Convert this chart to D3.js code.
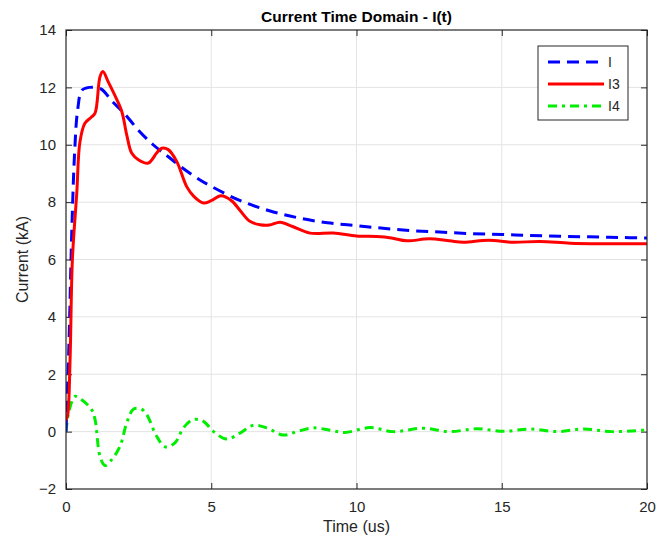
<!DOCTYPE html>
<html>
<head>
<meta charset="utf-8">
<script src="https://cdn.jsdelivr.net/npm/d3@7"></script>
<style>
  html, body { margin: 0; padding: 0; background: #fff; }
  svg { display: block; font-family: "Liberation Sans", Arial, Helvetica, sans-serif; }
</style>
</head>
<body>
<svg id="chart" width="666" height="540"></svg>
<script>
// ---- Data ----
const title = "Current Time Domain - I(t)";
const xLabel = "Time (us)";
const yLabel = "Current (kA)";
const xTicks = [0, 5, 10, 15, 20];
const yTicks = [-2, 0, 2, 4, 6, 8, 10, 12, 14];
const seriesNames = ["I", "I3", "I4"];

const tI = [0, 0.1, 0.2, 0.3, 0.4, 0.55, 0.8, 1.2, 1.6, 2.0, 2.5, 3.0, 3.5, 4.0, 4.6, 5.0, 6.0, 7.0, 8.0, 9.0, 10, 11, 12, 13, 14, 15, 16, 17, 18, 19, 20];
const vI = [0, 3.0, 7.0, 9.8, 11.2, 11.9, 12.0, 11.95, 11.5, 11.1, 10.5, 10.0, 9.6, 9.2, 8.78, 8.55, 8.05, 7.7, 7.45, 7.28, 7.18, 7.08, 7.0, 6.95, 6.9, 6.87, 6.84, 6.81, 6.79, 6.77, 6.75];

const tI3 = [0, 0.06, 0.14, 0.22, 0.37, 0.48, 0.65, 0.86, 1.0, 1.17, 1.27, 1.45, 1.69, 1.92, 2.1, 2.26, 2.49, 2.83, 3.12, 3.29, 3.52, 3.81, 4.15, 4.4, 4.73, 5.0, 5.33, 5.7, 6.0, 6.33, 6.68, 7.0, 7.37, 7.8, 8.4, 9.2, 10.0, 10.7, 11.2, 11.73, 12.5, 13.2, 13.68, 14.54, 15.39, 16.3, 17.35, 18.5, 20];
const vI3 = [0.4, 0.6, 2.5, 6.0, 8.3, 10.1, 10.75, 10.95, 11.1, 12.37, 12.55, 12.2, 11.7, 11.16, 10.3, 9.71, 9.48, 9.36, 9.71, 9.88, 9.83, 9.42, 8.55, 8.2, 7.97, 8.05, 8.22, 8.05, 7.7, 7.33, 7.21, 7.2, 7.3, 7.15, 6.92, 6.92, 6.82, 6.8, 6.75, 6.65, 6.72, 6.65, 6.6, 6.67, 6.6, 6.63, 6.57, 6.55, 6.55];

const tI4 = [0, 0.1, 0.31, 0.54, 0.88, 1.0, 1.17, 1.34, 1.57, 1.86, 2.09, 2.32, 2.6, 2.78, 3.12, 3.41, 3.75, 4.04, 4.38, 4.73, 5.07, 5.53, 5.99, 6.45, 6.91, 7.48, 7.94, 8.51, 9.09, 9.6, 10.46, 11.27, 12.3, 13.2, 14.14, 15.05, 15.97, 16.9, 17.8, 18.8, 20];
const vI4 = [0, 0.7, 1.23, 1.11, 0.77, 0.42, -0.86, -1.18, -0.98, -0.51, 0.3, 0.78, 0.78, 0.59, -0.16, -0.53, -0.39, 0.13, 0.42, 0.36, 0.01, -0.26, -0.05, 0.22, 0.13, -0.12, 0.0, 0.13, 0.05, -0.03, 0.14, 0.0, 0.12, 0.0, 0.1, 0.01, 0.09, 0.0, 0.09, 0.0, 0.06];

// ---- Layout ----
const svg = d3.select("#chart");
const m = { left: 66, right: 647, top: 30, bottom: 489 };
const x = d3.scaleLinear().domain([0, 20]).range([m.left, m.right]);
const y = d3.scaleLinear().domain([-2, 14]).range([m.bottom, m.top]);

// grid
const grid = svg.append("g");
grid.selectAll("line.gx").data(xTicks.slice(1, -1)).enter().append("line")
  .attr("x1", d => x(d)).attr("x2", d => x(d))
  .attr("y1", m.top).attr("y2", m.bottom)
  .attr("stroke", "#e3e3e3").attr("stroke-width", 1);
grid.selectAll("line.gy").data(yTicks.slice(1, -1)).enter().append("line")
  .attr("y1", d => y(d)).attr("y2", d => y(d))
  .attr("x1", m.left).attr("x2", m.right)
  .attr("stroke", "#e3e3e3").attr("stroke-width", 1);

// axes
const tickLen = 6;
const xAxisB = d3.axisBottom(x).tickValues(xTicks).tickSize(-tickLen).tickPadding(12).tickFormat(d3.format("d"));
const xAxisT = d3.axisTop(x).tickValues(xTicks).tickSize(-tickLen).tickFormat("");
const yAxisL = d3.axisLeft(y).tickValues(yTicks).tickSize(-tickLen).tickPadding(10).tickFormat(d3.format("d"));
const yAxisR = d3.axisRight(y).tickValues(yTicks).tickSize(-tickLen).tickFormat("");

function styleAxis(g) {
  g.select(".domain").remove();
  g.selectAll(".tick line").attr("stroke", "#262626").attr("stroke-width", 1);
  g.selectAll(".tick text").attr("fill", "#262626").style("font-size", "15px");
}
svg.append("g").attr("transform", `translate(0,${m.bottom})`).call(xAxisB).call(styleAxis);
svg.append("g").attr("transform", `translate(0,${m.top})`).call(xAxisT).call(styleAxis);
svg.append("g").attr("transform", `translate(${m.left},0)`).call(yAxisL).call(styleAxis);
svg.append("g").attr("transform", `translate(${m.right},0)`).call(yAxisR).call(styleAxis);

// lines
svg.append("clipPath").attr("id", "clip").append("rect")
  .attr("x", m.left).attr("y", m.top).attr("width", m.right - m.left).attr("height", m.bottom - m.top);
const line = d3.line().x(d => x(d[0])).y(d => y(d[1])).curve(d3.curveCatmullRom.alpha(0.5));
const lines = svg.append("g").attr("clip-path", "url(#clip)");

const series = [
  { name: seriesNames[0], pts: d3.zip(tI, vI), color: "#0000ff", dash: "12,7" },
  { name: seriesNames[1], pts: d3.zip(tI3, vI3), color: "#ff0000", dash: null },
  { name: seriesNames[2], pts: d3.zip(tI4, vI4), color: "#00ee00", dash: "9,5,3,5" }
];
[series[2], series[0], series[1]].forEach(s => {
  lines.append("path").datum(s.pts)
    .attr("d", line).attr("fill", "none")
    .attr("stroke", s.color).attr("stroke-width", 3)
    .attr("stroke-dasharray", s.dash);
});

// frame
svg.append("rect").attr("x", m.left).attr("y", m.top)
  .attr("width", m.right - m.left).attr("height", m.bottom - m.top)
  .attr("fill", "none").attr("stroke", "#262626").attr("stroke-width", 1.2);

// title & labels
svg.append("text").attr("x", (m.left + m.right) / 2).attr("y", 22)
  .attr("text-anchor", "middle").style("font-size", "15.5px").style("font-weight", "bold")
  .attr("fill", "#000").text(title);
svg.append("text").attr("x", (m.left + m.right) / 2).attr("y", 532)
  .attr("text-anchor", "middle").style("font-size", "16px").attr("fill", "#262626").text(xLabel);
svg.append("text").attr("transform", `translate(28,${(m.top + m.bottom) / 2}) rotate(-90)`)
  .attr("text-anchor", "middle").style("font-size", "16px").attr("fill", "#262626").text(yLabel);

// legend
const lg = svg.append("g");
lg.append("rect").attr("x", 538).attr("y", 46).attr("width", 90).attr("height", 74)
  .attr("fill", "#fff").attr("stroke", "#262626").attr("stroke-width", 1);
series.forEach((s, i) => {
  const yy = 62 + i * 22;
  lg.append("line").attr("x1", 548).attr("x2", 604).attr("y1", yy).attr("y2", yy)
    .attr("stroke", s.color).attr("stroke-width", 3).attr("stroke-dasharray", s.dash);
  lg.append("text").attr("x", 608).attr("y", yy + 5).style("font-size", "14px")
    .attr("fill", "#262626").text(s.name);
});
</script>
</body>
</html>
